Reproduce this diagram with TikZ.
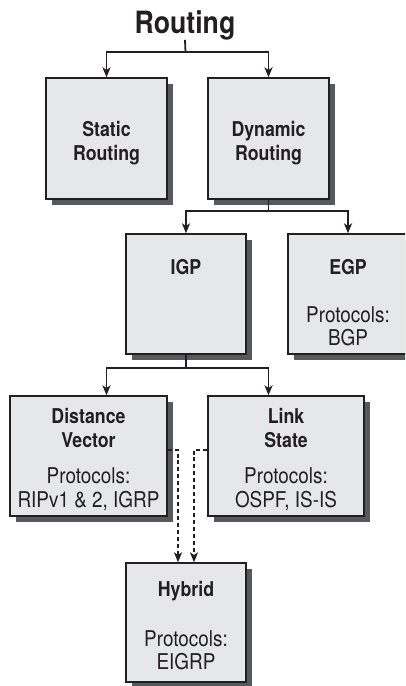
\documentclass[tikz,border=0pt]{standalone}
\usepackage{fontspec}
\setmainfont{TeX Gyre Heros}[FakeStretch=0.87]
\usetikzlibrary{arrows.meta,shadows}
\definecolor{boxfill}{HTML}{E6E7E8}
\definecolor{shadowcol}{HTML}{58595B}
\definecolor{bordercol}{HTML}{231F20}
\tikzset{
  box/.style={draw=bordercol, line width=1pt, fill=boxfill, inner sep=0pt,
    general shadow={fill=shadowcol, shadow xshift=4.5pt, shadow yshift=-4.5pt}},
  head/.style={font=\fontsize{15.3}{18}\selectfont\bfseries, anchor=base, inner sep=0pt, text=bordercol},
  body/.style={font=\fontsize{16.3}{19}\selectfont, anchor=base, inner sep=0pt, text=bordercol},
  ttl/.style={font=\fontsize{23}{27}\selectfont\bfseries, anchor=base, inner sep=0pt, text=bordercol},
  link/.style={draw=bordercol, line width=1.35pt},
  conn/.style={link, -{Stealth[length=7.5pt,width=6pt,inset=2pt]}},
  dconn/.style={conn, dash pattern=on 3pt off 2.2pt}
}
\begin{document}
\begin{tikzpicture}[x=0.75pt,y=-0.75pt]
\clip (0,0) rectangle (405,686);
\fill[white] (0,0) rectangle (405,686);
% title
\node[ttl] (title) at (185,33) {Routing};
% boxes
\node[box, minimum width=90.75pt, minimum height=90.75pt] (static) at (106.5,138.5) {};
\node[box, minimum width=90.75pt, minimum height=90.75pt] (dynamic) at (268.5,138.5) {};
\node[box, minimum width=90pt, minimum height=90pt] (igp) at (186,294) {};
\node[box, minimum width=90pt, minimum height=90pt] (egp) at (348,294) {};
\node[box, minimum width=117.75pt, minimum height=90pt] (dv) at (88.5,456) {};
\node[box, minimum width=117pt, minimum height=90pt] (ls) at (286,456) {};
\node[box, minimum width=90pt, minimum height=89.25pt] (hybrid) at (186,622.5) {};
% texts
\node[head] (st1) at (106.5,136) {Static};
\node[head] (st2) at (106.5,160) {Routing};
\node[head] (dy1) at (268.5,136) {Dynamic};
\node[head] (dy2) at (268.5,160) {Routing};
\node[head] (igpt) at (186,274) {IGP};
\node[head] (egpt) at (348,274) {EGP};
\node[body] (egp1) at (348,322) {Protocols:};
\node[body] (egp2) at (348,345) {BGP};
\node[head] (dv1) at (88.5,423) {Distance};
\node[head] (dv2) at (88.5,447) {Vector};
\node[body] (dv3) at (88.5,483) {Protocols:};
\node[body] (dv4) at (88.5,507) {RIPv1 \& 2, IGRP};
\node[head] (ls1) at (286,423) {Link};
\node[head] (ls2) at (286,447) {State};
\node[body] (ls3) at (286,483) {Protocols:};
\node[body] (ls4) at (286,507) {OSPF, IS-IS};
\node[head] (hy1) at (186,596) {Hybrid};
\node[body] (hy2) at (186,646) {Protocols:};
\node[body] (hy3) at (186,669) {EIGRP};
% connectors
\coordinate (j1) at (185.5,52);
\draw[link] (title.south) -- (j1);
\draw[conn] (j1) -| (static.north);
\draw[conn] (j1) -| (dynamic.north);
\coordinate (j2) at (268.5,211);
\draw[link] (dynamic.south) -- (j2);
\draw[conn] (j2) -| (igp.north);
\draw[conn] (j2) -| (egp.north);
\coordinate (j3) at (186,368);
\draw[link] (igp.south) -- (j3);
\draw[conn] (j3) -| (static.south |- dv.north);
\draw[conn] (j3) -| (dynamic.south |- ls.north);
\draw[dconn] ([yshift=4.5pt]dv.east) -| ([xshift=-6pt]hybrid.north);
\draw[dconn] ([yshift=4.5pt]ls.west) -| ([xshift=6pt]hybrid.north);
\end{tikzpicture}
\end{document}
